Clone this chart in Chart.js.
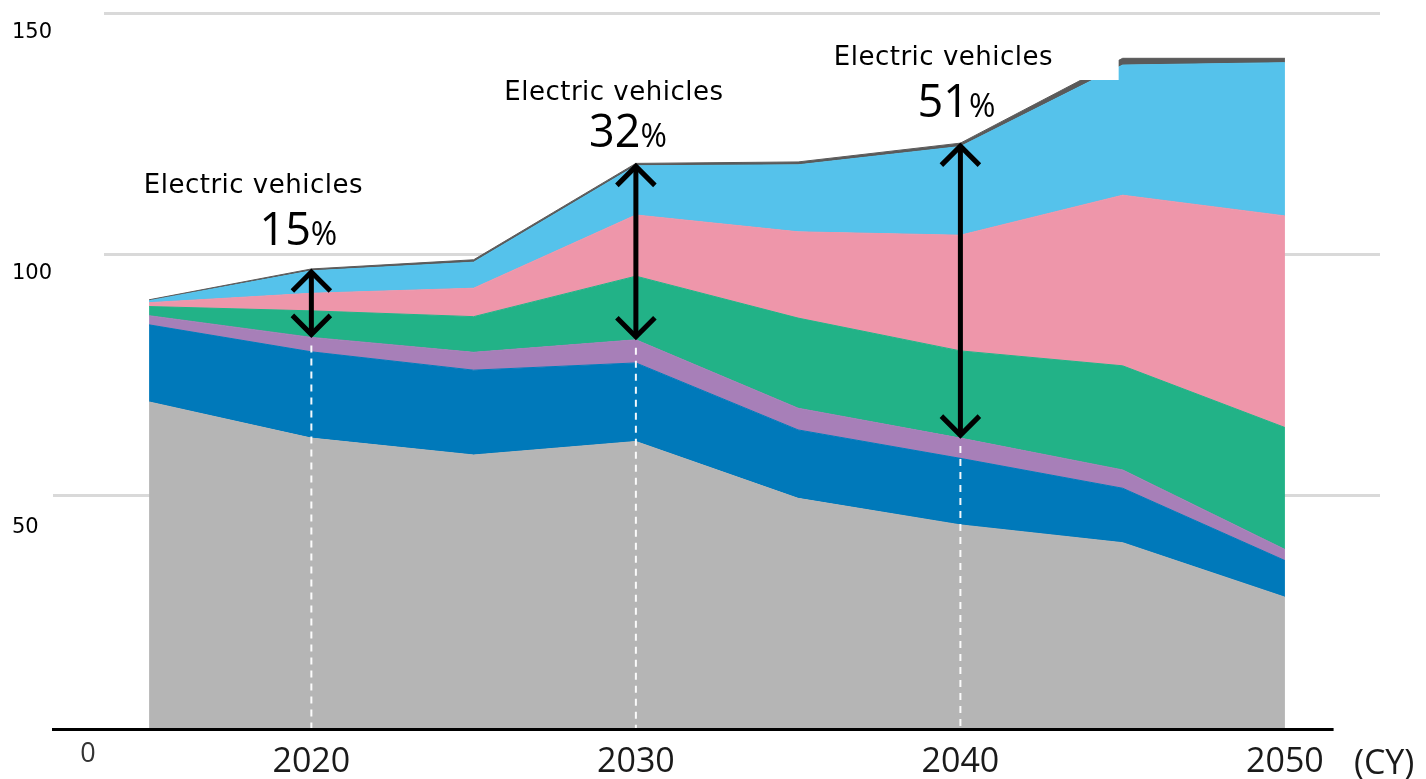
<!DOCTYPE html>
<html>
<head>
<meta charset="utf-8">
<script src="https://cdn.jsdelivr.net/npm/chart.js@4.4.1/dist/chart.umd.min.js"></script>
<style>
html,body{margin:0;padding:0;background:#ffffff;overflow:hidden}
canvas{display:block}
</style>
</head>
<body>
<canvas id="c" width="1426" height="779"></canvas>
<script>
// ---- data ----
const years    = [2015, 2020, 2025, 2030, 2035, 2040, 2045, 2050];
const gasoline = [69.3, 61.8, 58.3, 61.1, 49.3, 43.8, 40.1, 28.8];
const diesel   = [16.0, 17.9, 17.6, 16.3, 14.2, 13.8, 11.3, 7.6];
const other    = [1.9, 3.0, 3.7, 4.8, 4.5, 4.2, 3.8, 2.3];
const hev      = [1.9, 5.5, 7.4, 13.2, 18.7, 18.1, 21.6, 25.3];
const phev     = [0.8, 3.65, 5.9, 12.7, 17.9, 24.0, 35.4, 43.9];
const bev      = [0.4, 4.65, 5.4, 10.2, 13.9, 18.4, 27.0, 31.8];
const fcv      = [0.2, 0.4, 0.5, 0.5, 0.6, 0.7, 1.4, 0.9];
const seriesNames = ['Gasoline', 'Diesel', 'Other', 'HEV', 'PHEV', 'BEV', 'FCV'];

const yTickValues = [150, 100, 50];
const yZeroLabel = '0';
const xTickYears = [2020, 2030, 2040, 2050];
const xUnitLabel = '(CY)';
const evYears = [2020, 2030, 2040];
const evShares = ['15', '32', '51'];
const evLabel = 'Electric vehicles';

// ---- styles ----
const series = [gasoline, diesel, other, hev, phev, bev, fcv];
const colors = ['#b5b5b5', '#0079ba', '#a77fb8', '#22b287', '#ee96aa', '#55c2eb', '#5a5a5a'];

const sumTo = (n, i) => { let s = 0; for (let k = 0; k < n; k++) s += series[k][i]; return s; };

const overlay = {
  id: 'overlay',
  beforeDatasetsDraw(chart) {
    const { ctx, chartArea: a, scales: { y } } = chart;
    ctx.save();
    ctx.strokeStyle = '#d9d9d9';
    ctx.lineWidth = 3;
    yTickValues.forEach(v => {
      const py = Math.round(y.getPixelForValue(v)) + 0.5;
      const x0 = v === 50 ? a.left - 51 : a.left;
      ctx.beginPath(); ctx.moveTo(x0, py); ctx.lineTo(a.right, py); ctx.stroke();
    });
    ctx.restore();
  },
  afterDatasetsDraw(chart) {
    const { ctx, chartArea: a, scales: { x, y } } = chart;
    ctx.save();

    // white box behind the 2040 caption
    const bx0 = x.getPixelForValue(2040) - 140;
    const bx1 = x.getPixelForValue(2045) - 4;
    ctx.fillStyle = '#ffffff';
    ctx.fillRect(bx0, a.top + 8, bx1 - bx0, 59);

    // dashed white guides + double arrows
    const textOff = {
      2020: { lx: -58, ly: -76, px: -13, py: -24 },
      2030: { lx: -22, ly: -63, px: -8,  py: -16 },
      2040: { lx: -17, ly: -78, px: -4,  py: -26 }
    };
    evYears.forEach((yr, j) => {
      const i = years.indexOf(yr);
      const px = x.getPixelForValue(yr);
      const top = y.getPixelForValue(sumTo(7, i));
      const bot = y.getPixelForValue(sumTo(3, i));

      ctx.setLineDash([7, 6]);
      ctx.strokeStyle = 'rgba(255,255,255,0.95)';
      ctx.lineWidth = 2;
      ctx.beginPath(); ctx.moveTo(px, bot + 8); ctx.lineTo(px, a.bottom); ctx.stroke();
      ctx.setLineDash([]);

      ctx.strokeStyle = '#000000';
      ctx.lineWidth = 5;
      ctx.lineJoin = 'miter';
      ctx.beginPath(); ctx.moveTo(px, top + 3); ctx.lineTo(px, bot - 3); ctx.stroke();
      ctx.beginPath();
      ctx.moveTo(px - 19, top + 22); ctx.lineTo(px, top + 3); ctx.lineTo(px + 19, top + 22);
      ctx.stroke();
      ctx.beginPath();
      ctx.moveTo(px - 19, bot - 22); ctx.lineTo(px, bot - 3); ctx.lineTo(px + 19, bot - 22);
      ctx.stroke();

      const o = textOff[yr];
      ctx.fillStyle = '#000000';
      ctx.textBaseline = 'alphabetic';
      ctx.textAlign = 'center';
      ctx.font = '26px "DejaVu Sans"';
      try { ctx.letterSpacing = '0.5px'; } catch (e) {}
      ctx.fillText(evLabel, px + o.lx, top + o.ly);
      try { ctx.letterSpacing = '0px'; } catch (e) {}

      ctx.textAlign = 'left';
      ctx.font = '45px "Open Sans"';
      const wNum = ctx.measureText(evShares[j]).width;
      ctx.font = '32px "Open Sans"';
      const wPct = ctx.measureText('%').width;
      const sx = px + o.px - (wNum + wPct) / 2;
      ctx.font = '45px "Open Sans"';
      ctx.fillText(evShares[j], sx, top + o.py);
      ctx.font = '32px "Open Sans"';
      ctx.fillText('%', sx + wNum, top + o.py);
    });

    // x axis line
    ctx.strokeStyle = '#000000';
    ctx.lineWidth = 3;
    ctx.beginPath(); ctx.moveTo(a.left - 52, a.bottom + 0.5); ctx.lineTo(x.getPixelForValue(2051.5), a.bottom + 0.5); ctx.stroke();

    // x tick labels
    ctx.fillStyle = '#1a1a1a';
    ctx.font = '34px "Open Sans"';
    ctx.textAlign = 'center';
    xTickYears.forEach(yr => ctx.fillText(String(yr), x.getPixelForValue(yr), a.bottom + 43));
    ctx.textAlign = 'left';
    ctx.font = '34px "Open Sans"';
    ctx.fillText(xUnitLabel, x.getPixelForValue(2050) + 69, a.bottom + 45);

    // y tick labels (sit below their grid lines)
    ctx.fillStyle = '#000000';
    ctx.font = '21px "DejaVu Sans"';
    ctx.textAlign = 'left';
    const yOff = { 150: 25, 100: 25, 50: 38 };
    yTickValues.forEach(v => ctx.fillText(String(v), 12, y.getPixelForValue(v) + yOff[v]));
    ctx.textAlign = 'center';
    ctx.fillStyle = '#333333';
    ctx.font = '27px "Open Sans"';
    ctx.fillText(yZeroLabel, 88, a.bottom + 33);

    ctx.restore();
  }
};

new Chart(document.getElementById('c'), {
  type: 'line',
  data: {
    datasets: series.map((arr, k) => ({
      label: seriesNames[k],
      data: years.map((yr, i) => ({ x: yr, y: arr[i] })),
      backgroundColor: colors[k],
      borderColor: colors[k],
      borderWidth: 1,
      fill: k === 0 ? 'origin' : '-1',
      pointRadius: 0,
      tension: 0
    }))
  },
  options: {
    responsive: false,
    animation: false,
    devicePixelRatio: 1,
    layout: { padding: { left: 104, right: 46, top: 13, bottom: 50 } },
    plugins: { legend: { display: false }, tooltip: { enabled: false } },
    scales: {
      x: { type: 'linear', min: 2013.61, max: 2052.93, display: false },
      y: { type: 'linear', stacked: true, min: 1.45, max: 150, display: false }
    }
  },
  plugins: [overlay]
});
</script>
</body>
</html>
